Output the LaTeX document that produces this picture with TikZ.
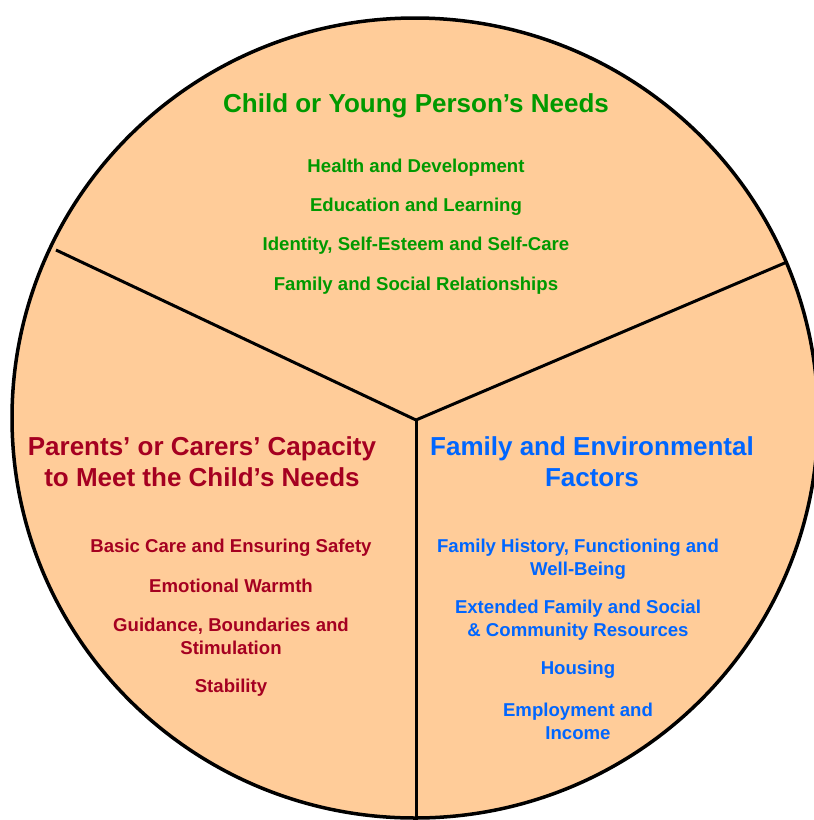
\documentclass[tikz,border=0pt]{standalone}
\usepackage{fontspec}
\setmainfont{Liberation Sans}
\definecolor{pie}{HTML}{FFCC99}
\definecolor{cgreen}{HTML}{009900}
\definecolor{cred}{HTML}{A50021}
\definecolor{cblue}{HTML}{0066FF}
\tikzset{
  head/.style={font=\bfseries\fontsize{26}{31}\selectfont, align=center, inner sep=0pt},
  item/.style={font=\bfseries\fontsize{18.6}{23}\selectfont, align=center, inner sep=0pt},
  divider/.style={line width=3pt, black},
}
\begin{document}
\begin{tikzpicture}[x=1pt,y=-1pt]
\useasboundingbox (0,0) rectangle (814,820);
\begin{scope}
\clip (0,0) rectangle (814,820);
\draw[line width=3.5pt, fill=pie] (415,418) ellipse [x radius=403, y radius=400];
\end{scope}
\coordinate (hub) at (416,420);
\coordinate (lend) at (56,250);
\coordinate (rend) at (787,262);
\coordinate (bend) at (416,822);
\draw[divider] (lend) -- (hub) -- (rend);
\draw[divider] (hub) -- (bend);

% top segment
\node[head, text=cgreen] (t0) at (416,106) {Child or Young Person’s Needs};
\node[item, text=cgreen] (t1) at (416,168) {Health and Development};
\node[item, text=cgreen] (t2) at (416,207) {Education and Learning};
\node[item, text=cgreen] (t3) at (416,246) {Identity, Self-Esteem and Self-Care};
\node[item, text=cgreen] (t4) at (416,286) {Family and Social Relationships};

% left segment
\node[head, text=cred] (l0) at (202,462) {Parents’ or Carers’ Capacity\\to Meet the Child’s Needs};
\node[item, text=cred] (l1) at (231,548) {Basic Care and Ensuring Safety};
\node[item, text=cred] (l2) at (231,586) {Emotional Warmth};
\node[item, text=cred] (l3) at (231,636.5) {Guidance, Boundaries and\\Stimulation};
\node[item, text=cred] (l4) at (231,688) {Stability};

% right segment
\node[head, text=cblue] (r0) at (592,462) {Family and Environmental\\Factors};
\node[item, text=cblue] (r1) at (578,559) {Family History, Functioning and\\Well-Being};
\node[item, text=cblue] (r2) at (578,620.5) {Extended Family and Social\\\& Community Resources};
\node[item, text=cblue] (r3) at (578,670) {Housing};
\node[item, text=cblue] (r4) at (578,721.5) {Employment and\\Income};
\end{tikzpicture}
\end{document}
